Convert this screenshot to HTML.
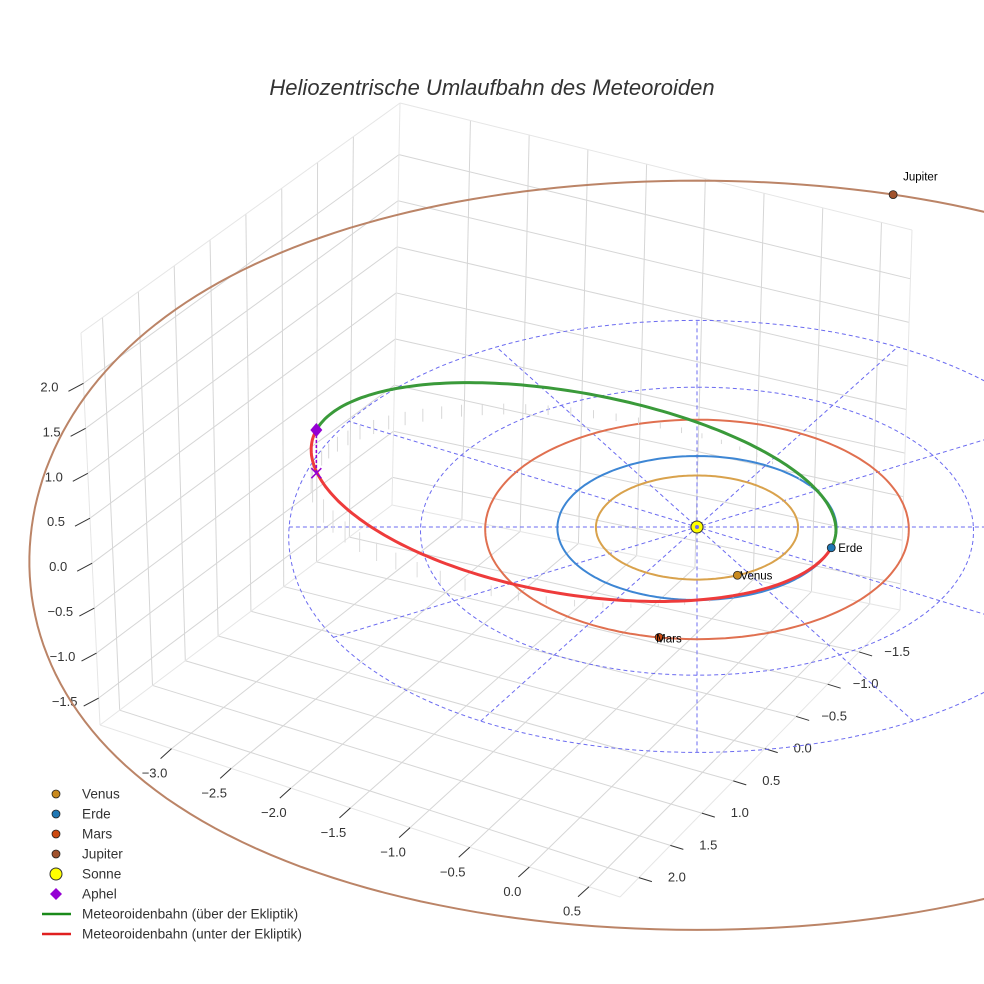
<!DOCTYPE html>
<html><head><meta charset="utf-8">
<style>
html,body{margin:0;padding:0;background:#fff;}
svg{display:block;font-family:"Liberation Sans",sans-serif;}
</style></head>
<body>
<svg id="chart" width="984" height="984" viewBox="0 0 984 984">
<text x="492" y="95" text-anchor="middle" font-size="22" font-style="italic" fill="#333">Heliozentrische Umlaufbahn des Meteoroiden</text>
<g id="box"></g>
<g id="ecl"></g>
<g id="orbits"></g>
<g id="met"></g>
<g id="marks"></g>
<g id="legend"></g>
</svg>
<script>
// ---- axis data ----
const xTicks = [-3.0,-2.5,-2.0,-1.5,-1.0,-0.5,0.0,0.5];
const yTicks = [-1.5,-1.0,-0.5,0.0,0.5,1.0,1.5,2.0];
const zTicks = [-1.5,-1.0,-0.5,0.0,0.5,1.0,1.5,2.0];
const xRange = [-3.6,0.76];
const yRange = [-2.15,2.3];
const zRange = [-1.8,2.56];
// ---- planet data ----
const planetNames = ["Venus","Erde","Mars","Jupiter"];
const planetRadii = [0.723,1.0,1.524,5.203];
const planetAngles = [66.7,16.7,100,-73];
// ---- ecliptic grid data ----
const gridRadii = [2,3];
const gridSpokeAngles = [0,30,60,90,120,150];
// ---- meteoroid orbit data ----
const orbitSemiMajor = [1.96];
const orbitSemiMinor = [1.3];
const orbitEcc = [0.49];
const orbitPeriAngle = [15];
const aphelHeight = [0.48];

const NS="http://www.w3.org/2000/svg";
function mk(tag,attrs,parent){const e=document.createElementNS(NS,tag);for(const k in attrs)e.setAttribute(k,attrs[k]);parent.appendChild(e);return e;}
const C={TB:[400,103],TL:[81,333],TR:[912,230],B:[392,505],FL:[100,725],F:[620,897],R:[900,610]};
function lerp(a,b,t){return [a[0]+(b[0]-a[0])*t,a[1]+(b[1]-a[1])*t];}
function bil(p00,p10,p01,p11,s,t){return lerp(lerp(p00,p10,s),lerp(p01,p11,s),t);}
const sx=x=>(x-xRange[0])/(xRange[1]-xRange[0]);
const sy=y=>(y-yRange[0])/(yRange[1]-yRange[0]);
const sz=z=>(z-zRange[0])/(zRange[1]-zRange[0]);
const box=document.getElementById('box');
function gl(a,b,col,w){const l=mk('line',{x1:a[0],y1:a[1],x2:b[0],y2:b[1],stroke:col||'#d6d6d6','stroke-width':w||1},box);}
const floor=(x,y)=>bil(C.B,C.R,C.FL,C.F,sx(x),sy(y));
const rwall=(x,z)=>bil(C.B,C.R,C.TB,C.TR,sx(x),sz(z));
const lwall=(y,z)=>bil(C.B,C.FL,C.TB,C.TL,sy(y),sz(z));
xTicks.forEach(x=>{gl(floor(x,yRange[0]),floor(x,yRange[1]));gl(rwall(x,zRange[0]),rwall(x,zRange[1]));});
yTicks.forEach(y=>{gl(floor(xRange[0],y),floor(xRange[1],y));gl(lwall(y,zRange[0]),lwall(y,zRange[1]));});
zTicks.forEach(z=>{gl(rwall(xRange[0],z),rwall(xRange[1],z));gl(lwall(yRange[0],z),lwall(yRange[1],z));});
[[C.TB,C.TL],[C.TB,C.TR],[C.TB,C.B],[C.TL,C.FL],[C.TR,C.R],[C.FL,C.F],[C.F,C.R],[C.B,C.FL],[C.B,C.R]].forEach(p=>gl(p[0],p[1],'#e6e6e6',1));
function tickLabel(p,dx,dy,lx,ly,txt,name){
  const t=mk('line',{x1:p[0],y1:p[1],x2:p[0]+dx,y2:p[1]+dy,stroke:'#333','stroke-width':1},box);
  
  const s=mk('text',{x:p[0]+lx,y:p[1]+ly,'font-size':13,fill:'#333','text-anchor':'middle'},box);
  s.textContent=(txt<0?'\u2212':'')+Math.abs(txt).toFixed(1);
  
}
xTicks.forEach(x=>tickLabel(floor(x,yRange[1]),-11,10,-17,29,x,'x-axis'));
yTicks.forEach(y=>tickLabel(floor(xRange[1],y),13,4,38,4,y,'y-axis'));
zTicks.forEach(z=>tickLabel(lwall(yRange[1],z),-15,8,-34,8,z,'z-axis'));

function P(u,v,z){const f=1+0.0145*v;return [697+140*u*f*(1-0.0032*u*u),527+72*v*f-90*(z||0)];}
function pathFrom(pts){return 'M'+pts.map(p=>p[0].toFixed(1)+','+p[1].toFixed(1)).join('L');}
const ecl=document.getElementById('ecl');
gridRadii.forEach(r=>{const pts=[];for(let i=0;i<=180;i++){const a=i/180*2*Math.PI;pts.push(P(r*Math.cos(a),r*Math.sin(a),0));}
  const e=mk('path',{d:pathFrom(pts),fill:'none',stroke:'#6b6bf0','stroke-width':1,'stroke-dasharray':'4,3'},ecl);
  });
gridSpokeAngles.forEach(d=>{const a=d*Math.PI/180,R=gridRadii[gridRadii.length-1];const p1=P(R*Math.cos(a),R*Math.sin(a)),p2=P(-R*Math.cos(a),-R*Math.sin(a));
  const e=mk('line',{x1:p1[0],y1:p1[1],x2:p2[0],y2:p2[1],stroke:'#6b6bf0','stroke-width':1,'stroke-dasharray':'4,3'},ecl);
  });

const orbitColors=['#d9a24c','#3d86d4','#e07050','#bb8467'];
const planetColors=['#c98a1e','#1f77b4','#cc4a10','#a0522d'];
const orb=document.getElementById('orbits');
planetRadii.forEach((r,k)=>{const pts=[];for(let i=0;i<=240;i++){const a=i/240*2*Math.PI;pts.push(P(r*Math.cos(a),r*Math.sin(a),0));}
  const e=mk('path',{d:pathFrom(pts),fill:'none',stroke:orbitColors[k],'stroke-width':2},orb);
  });

const met=document.getElementById('met');
const a0=orbitSemiMajor[0],b0=orbitSemiMinor[0],e0=orbitEcc[0],w=orbitPeriAngle[0]*Math.PI/180,zA=aphelHeight[0];
const d=[Math.cos(w),Math.sin(w)],pp=[-Math.sin(w),Math.cos(w)],c=[-a0*e0*d[0],-a0*e0*d[1]];
function orbPt(E){return [c[0]+a0*Math.cos(E)*d[0]+b0*Math.sin(E)*pp[0],c[1]+a0*Math.cos(E)*d[1]+b0*Math.sin(E)*pp[1]];}
function zUp(E){return zA*(1-Math.cos(E))/2;}
function zDn(E){return zA*Math.pow((1-Math.cos(E))/2,1.5);}
for(let i=1;i<36;i++){const E=Math.PI+i/36*Math.PI;const q=orbPt(E);const p1=P(q[0],q[1],0),p2=P(q[0],q[1],zUp(E)*0.35);
  const l=mk('line',{x1:p1[0],y1:p1[1],x2:p2[0],y2:p2[1],stroke:'#d8d8d8','stroke-width':1},met);
  }
for(let i=1;i<30;i++){const E=i/30*Math.PI;const q=orbPt(E);const p1=P(q[0],q[1],0),p2=P(q[0],q[1],zDn(E)*0.6);
  const l=mk('line',{x1:p1[0],y1:p1[1],x2:p2[0],y2:p2[1],stroke:'#dcdcdc','stroke-width':1},met);
  }
const gPts=[],rPts=[];
for(let i=0;i<=120;i++){const E=Math.PI+i/120*Math.PI;const q=orbPt(E);gPts.push(P(q[0],q[1],zUp(E)));}
for(let i=0;i<=120;i++){const E=i/120*Math.PI;const q=orbPt(E);rPts.push(P(q[0],q[1],zDn(E)));}
const gp=mk('path',{d:pathFrom(gPts),fill:'none',stroke:'#3a9a3a','stroke-width':3},met);

const rp=mk('path',{d:pathFrom(rPts),fill:'none',stroke:'#ee3b3b','stroke-width':3},met);


const mks=document.getElementById('marks');
const qa=orbPt(Math.PI),pa=P(qa[0],qa[1],zA),px=P(qa[0],qa[1],0);
const al=mk('line',{x1:pa[0],y1:pa[1],x2:px[0],y2:px[1],stroke:'#9400d3','stroke-width':1.5,'stroke-dasharray':'3,2'},mks);

const xm=mk('path',{d:`M${px[0]-5},${px[1]-5}L${px[0]+5},${px[1]+5}M${px[0]-5},${px[1]+5}L${px[0]+5},${px[1]-5}`,stroke:'#9400d3','stroke-width':1.5},mks);

const dm=mk('path',{d:`M${pa[0]},${pa[1]-7}L${pa[0]+6},${pa[1]}L${pa[0]},${pa[1]+7}L${pa[0]-6},${pa[1]}Z`,fill:'#9400d3'},mks);

const sun=P(0,0,0);
const sc=mk('circle',{cx:sun[0],cy:sun[1],r:6,fill:'#ffff00',stroke:'#333','stroke-width':1},mks);

const sd=mk('circle',{cx:sun[0],cy:sun[1],r:2,fill:'#6b6bf0'},mks);

const labelOff=[[3,4],[7,4],[-3,5],[10,-14]];
planetRadii.forEach((r,k)=>{const a=planetAngles[k]*Math.PI/180;const p=P(r*Math.cos(a),r*Math.sin(a),0);
  const m=mk('circle',{cx:p[0],cy:p[1],r:4,fill:planetColors[k],stroke:'#222','stroke-width':0.8},mks);
  
  const t=mk('text',{x:p[0]+labelOff[k][0],y:p[1]+labelOff[k][1],'font-size':11.5,fill:'#000'},mks);
  t.textContent=planetNames[k];
  });

const lg=document.getElementById('legend');
const legNames=["Venus","Erde","Mars","Jupiter","Sonne","Aphel","Meteoroidenbahn (über der Ekliptik)","Meteoroidenbahn (unter der Ekliptik)"];
legNames.forEach((n,i)=>{const y=794+i*20;const g=mk('g',{},lg);
  
  if(i<4){mk('circle',{cx:56,cy:y,r:4,fill:planetColors[i],stroke:'#222','stroke-width':0.8},g);}
  else if(i==4){mk('circle',{cx:56,cy:y,r:6,fill:'#ffff00',stroke:'#333','stroke-width':1},g);}
  else if(i==5){mk('path',{d:`M56,${y-6}L62,${y}L56,${y+6}L50,${y}Z`,fill:'#9400d3'},g);}
  else{mk('line',{x1:42,y1:y,x2:71,y2:y,stroke:i==6?'#1a8a1a':'#e02020','stroke-width':2.5},g);}
  const t=mk('text',{x:82,y:y+4.5,'font-size':13.6,fill:'#333'},g);t.textContent=n;});
</script>
</body></html>
